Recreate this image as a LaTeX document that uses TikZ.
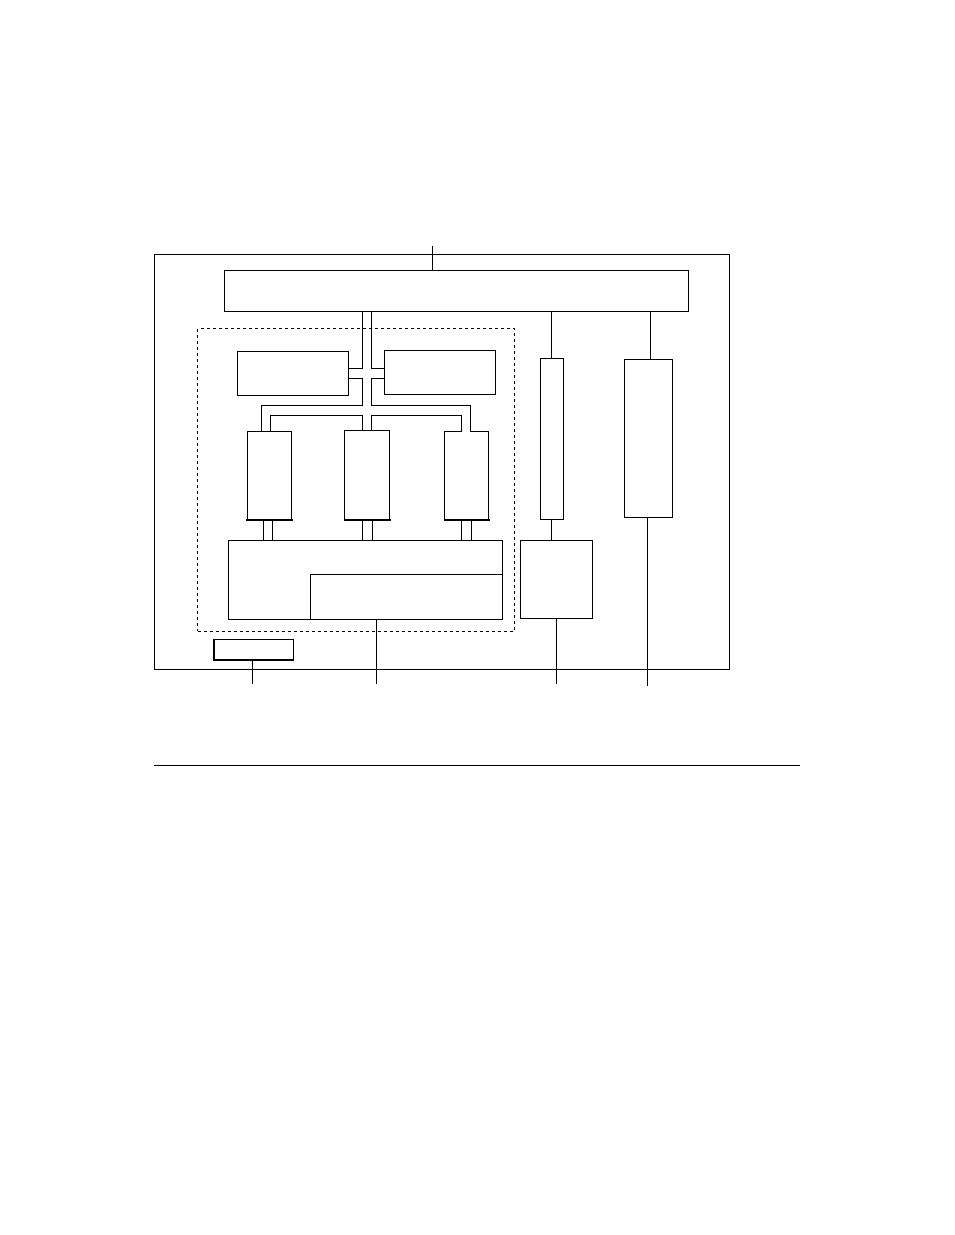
\documentclass[tikz,border=0pt]{standalone}
\begin{document}
\begin{tikzpicture}[x=1pt,y=-1pt,
  box/.style={draw, line width=0.9pt, inner sep=0pt, outer sep=0pt, anchor=north west},
  dbox/.style={box, dashed, dash pattern=on 3pt off 3pt},
  wire/.style={line width=0.9pt},
  heavy/.style={line width=1.8pt}]
\useasboundingbox (0,0) rectangle (954,1235);
% boxes
\node[box, minimum width=575pt, minimum height=415pt] (outer) at (154.3,254.3) {};
\node[box, minimum width=464.4pt, minimum height=41pt] (topbar) at (224.3,270.3) {};
\node[dbox, minimum width=316.6pt, minimum height=302.6pt] (group) at (197.7,328.7) {};
\node[box, minimum width=111.4pt, minimum height=44pt] (lbox) at (237.3,351.3) {};
\node[box, minimum width=111pt, minimum height=44pt] (rbox) at (384.7,350.3) {};
\node[box, minimum width=44.4pt, minimum height=88.7pt] (cpua) at (247.3,431.3) {};
\node[box, minimum width=45.2pt, minimum height=89.5pt] (cpub) at (344.5,430.5) {};
\node[box, minimum width=44.2pt, minimum height=88.7pt] (cpuc) at (444.5,431.3) {};
\node[box, minimum width=274pt, minimum height=78.7pt] (big) at (228.3,540.3) {};
\node[box, minimum width=192pt, minimum height=44.7pt] (inner) at (310.3,574.3) {};
\node[box, minimum width=79.6pt, minimum height=20.3pt] (small) at (213.7,639.7) {};
\node[box, minimum width=23pt, minimum height=161pt] (tallA) at (540.3,358.3) {};
\node[box, minimum width=72pt, minimum height=78pt] (lowbox) at (520.3,540.3) {};
\node[box, minimum width=48pt, minimum height=158pt] (tallB) at (624.3,359.3) {};
% heavier edges
\draw[heavy, line cap=rect] (cpua.south west) -- (cpua.south east);
\draw[heavy, line cap=rect] (cpub.north west) -- (cpub.south west) -- (cpub.south east);
\draw[heavy, line cap=rect] (cpuc.south west) -- (cpuc.south east);
\draw[heavy, line cap=rect] (small.north west) -- (small.south west) -- (small.south east);
% helper coordinates
\coordinate (topend) at (432.7,246);
\coordinate (xL) at (362.3,0);
\coordinate (xR) at (371.5,0);
\coordinate (ya) at (0,368);
\coordinate (yb) at (0,378.7);
\coordinate (yc) at (0,405.8);
\coordinate (yd) at (0,415.2);
\coordinate (ta1) at (261.3,0);
\coordinate (ta2) at (270.3,0);
\coordinate (tc1) at (461.7,0);
\coordinate (tc2) at (470.7,0);
\coordinate (ba1) at (263.3,0);
\coordinate (ba2) at (272.3,0);
\coordinate (bb1) at (362.3,0);
\coordinate (bb2) at (372.3,0);
\coordinate (bc1) at (461.3,0);
\coordinate (bc2) at (471.3,0);
\coordinate (xbig) at (376.3,0);
\coordinate (xsmall) at (252.3,0);
\coordinate (xtA) at (551.3,0);
\coordinate (xlow) at (556.3,0);
\coordinate (xtB1) at (650.3,0);
\coordinate (xtB2) at (647.5,0);
\coordinate (bigend) at (376.3,684.3);
\coordinate (smallend) at (252.3,684.3);
\coordinate (lowend) at (556.3,684.3);
\coordinate (tBend) at (647.5,685.7);
\coordinate (ruleL) at (154,765.3);
\coordinate (ruleR) at (799.7,765.3);
\coordinate (gapend) at (0,432.4);
% gap in the top edge of the third box between its two wires
\draw[white, line width=1.4pt] (cpuc.north -| tc1) -- (cpuc.north -| tc2);
% connectors
\draw[wire] (topend) -- (topend |- topbar.north);
\draw[wire] (topbar.south -| xL) |- (lbox.east |- ya);
\draw[wire] (topbar.south -| xR) |- (rbox.west |- ya);
\draw[wire] (lbox.east |- yb) -| (xL |- yc) -| (cpua.north -| ta1);
\draw[wire] (rbox.west |- yb) -| (xR |- yc) -| (tc2 |- gapend);
\draw[wire] (cpua.north -| ta2) |- (xL |- yd) -- (cpub.north -| xL);
\draw[wire] (tc1 |- gapend) |- (xR |- yd) -- (cpub.north -| xR);
\draw[wire] (cpua.south -| ba1) -- (big.north -| ba1);
\draw[wire] (cpua.south -| ba2) -- (big.north -| ba2);
\draw[wire] (cpub.south -| bb1) -- (big.north -| bb1);
\draw[wire] (cpub.south -| bb2) -- (big.north -| bb2);
\draw[wire] (cpuc.south -| bc1) -- (big.north -| bc1);
\draw[wire] (cpuc.south -| bc2) -- (big.north -| bc2);
\draw[wire] (big.south -| xbig) -- (bigend);
\draw[wire] (small.south -| xsmall) -- (smallend);
\draw[wire] (topbar.south -| xtA) -- (tallA.north -| xtA);
\draw[wire] (tallA.south -| xtA) -- (lowbox.north -| xtA);
\draw[wire] (lowbox.south -| xlow) -- (lowend);
\draw[wire] (topbar.south -| xtB1) -- (tallB.north -| xtB1);
\draw[wire] (tallB.south -| xtB2) -- (tBend);
\draw[wire] (ruleL) -- (ruleR);
\end{tikzpicture}
\end{document}
